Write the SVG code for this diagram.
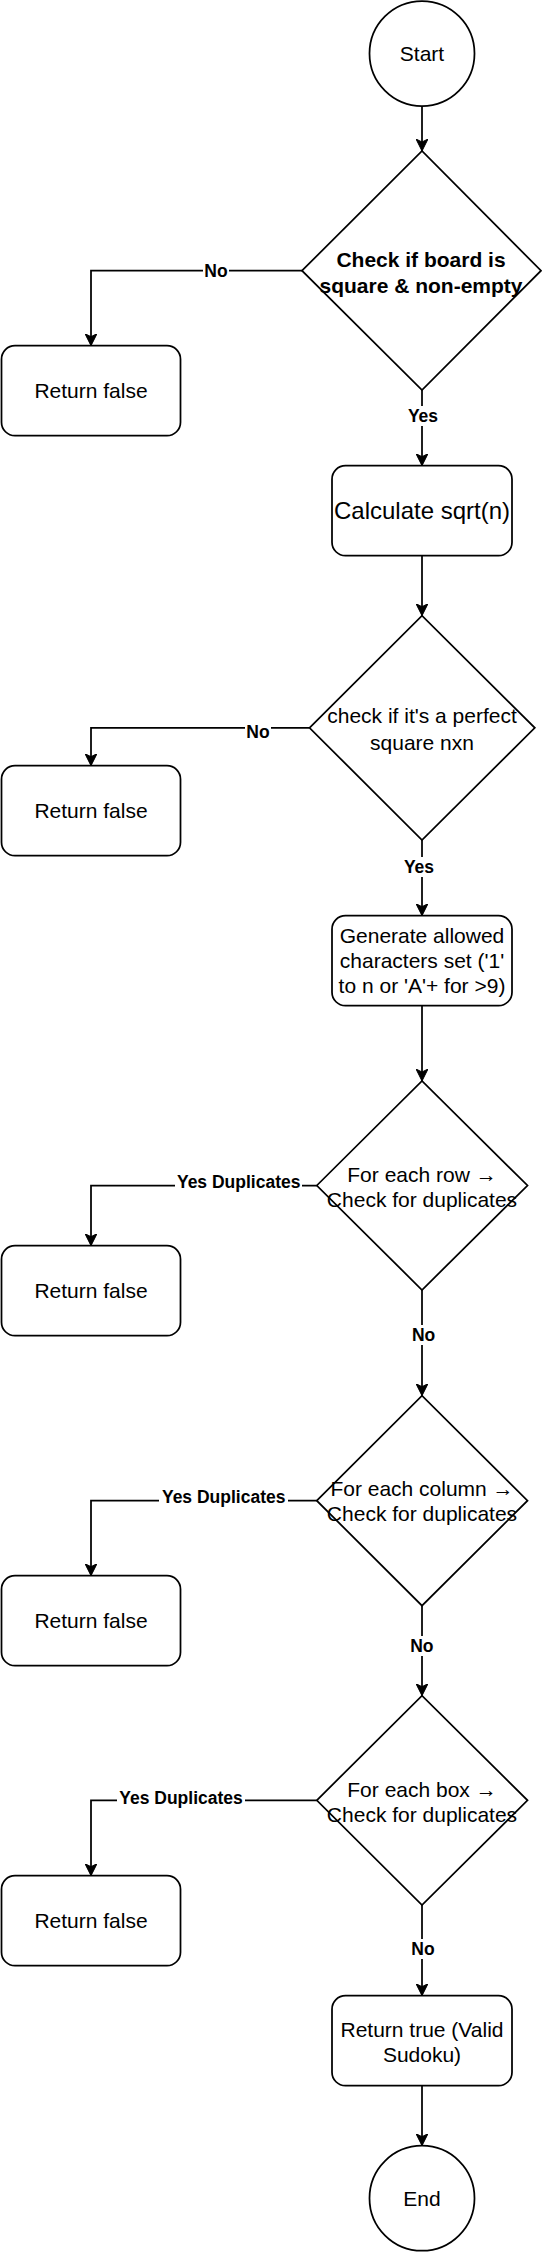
<svg xmlns="http://www.w3.org/2000/svg" width="542" height="2252" viewBox="0 0 542 2252">
<style>
.n{fill:#fff;stroke:#000;stroke-width:1.75}
.t{font-family:"Liberation Sans",Arial,Helvetica,sans-serif;font-size:21px;fill:#000;text-anchor:middle}
.b{font-weight:bold}
.e{fill:none;stroke:#000;stroke-width:1.75}
.lb{fill:#fff;stroke:none}
.l{font-family:"Liberation Sans",Arial,Helvetica,sans-serif;font-size:17.5px;font-weight:bold;fill:#000;text-anchor:middle}
</style>
<defs>
<marker id="arr" markerUnits="userSpaceOnUse" viewBox="0 0 12 12" refX="12" refY="6" markerWidth="12" markerHeight="12" orient="auto">
<path d="M0,0 L12,6 L0,12 L3,6 Z" fill="#000" stroke="#000" stroke-width="1"/>
</marker>
</defs>
<rect width="542" height="2252" fill="#fff"/>
<g id="connectors">
<path class="e" d="M422,106 V151" marker-end="url(#arr)"/>
<path class="e" d="M302,270.7 H91 V345.7" marker-end="url(#arr)"/>
<path class="e" d="M422,390 V465.7" marker-end="url(#arr)"/>
<path class="e" d="M422,555.7 V615.7" marker-end="url(#arr)"/>
<path class="e" d="M309.5,727.8 H91 V765.7" marker-end="url(#arr)"/>
<path class="e" d="M422,840 V915.7" marker-end="url(#arr)"/>
<path class="e" d="M422,1005.7 V1081" marker-end="url(#arr)"/>
<path class="e" d="M316.8,1185.5 H91 V1245.7" marker-end="url(#arr)"/>
<path class="e" d="M422,1290 V1395.7" marker-end="url(#arr)"/>
<path class="e" d="M316.8,1500.7 H91 V1575.7" marker-end="url(#arr)"/>
<path class="e" d="M422,1605.7 V1695.7" marker-end="url(#arr)"/>
<path class="e" d="M316.8,1800.3 H91 V1875.7" marker-end="url(#arr)"/>
<path class="e" d="M422,1905 V1995.7" marker-end="url(#arr)"/>
<path class="e" d="M422,2085.7 V2145.7" marker-end="url(#arr)"/>
<g id="labels">
<rect class="lb" x="203" y="261" width="26" height="20"/><text class="l" x="216" y="277">No</text>
<rect class="lb" x="406" y="406" width="34" height="20"/><text class="l" x="423" y="422.3">Yes</text>
<rect class="lb" x="245" y="722" width="26" height="20"/><text class="l" x="258" y="738">No</text>
<rect class="lb" x="402" y="857" width="34" height="20"/><text class="l" x="419" y="873">Yes</text>
<rect class="lb" x="175" y="1172" width="127" height="20"/><text class="l" x="238.7" y="1188">Yes Duplicates</text>
<rect class="lb" x="410" y="1325" width="27" height="20"/><text class="l" x="423.6" y="1341.3">No</text>
<rect class="lb" x="159" y="1487" width="129" height="20"/><text class="l" x="223.7" y="1503">Yes Duplicates</text>
<rect class="lb" x="408" y="1636" width="27" height="20"/><text class="l" x="421.8" y="1652">No</text>
<rect class="lb" x="117" y="1788" width="128" height="20"/><text class="l" x="181" y="1804.3">Yes Duplicates</text>
<rect class="lb" x="409" y="1939" width="27" height="20"/><text class="l" x="423" y="1955.3">No</text>
</g>
</g>
<g id="start"><circle class="n" cx="422" cy="53.5" r="52.5"/><text class="t" x="422" y="61">Start</text></g>
<g id="check-board"><polygon class="n" points="302,270.7 422,151 541,270.7 422,390"/><text class="t b" x="421" y="266.8">Check if board is</text><text class="t b" x="421" y="292.5">square &amp; non-empty</text></g>
<g id="false1"><rect class="n" x="1.5" y="345.7" width="179" height="90" rx="13.5"/><text class="t" x="91" y="398.2">Return false</text></g>
<g id="calc-sqrt"><rect class="n" x="332" y="465.7" width="180" height="90" rx="13.5"/><text class="t" x="422" y="518.6" style="font-size:24px">Calculate sqrt(n)</text></g>
<g id="check-perfect"><polygon class="n" points="309.5,727.8 422,615.7 534.8,727.8 422,840"/><text class="t" x="422" y="723.2">check if it's a perfect</text><text class="t" x="422" y="749.8">square nxn</text></g>
<g id="false2"><rect class="n" x="1.5" y="765.7" width="179" height="90" rx="13.5"/><text class="t" x="91" y="818.2">Return false</text></g>
<g id="generate"><rect class="n" x="332" y="915.7" width="180" height="90" rx="13.5"/><text class="t" x="422" y="943">Generate allowed</text><text class="t" x="422" y="968.2">characters set ('1'</text><text class="t" x="422" y="993.4">to n or 'A'+ for &gt;9)</text></g>
<g id="check-rows"><polygon class="n" points="316.8,1185.5 422,1081 527.5,1185.5 422,1290"/><text class="t" x="422" y="1181.8">For each row →</text><text class="t" x="422" y="1206.5">Check for duplicates</text></g>
<g id="false3"><rect class="n" x="1.5" y="1245.7" width="179" height="90" rx="13.5"/><text class="t" x="91" y="1298.2">Return false</text></g>
<g id="check-cols"><polygon class="n" points="316.8,1500.7 422,1395.7 527.5,1500.7 422,1605.7"/><text class="t" x="422" y="1495.8">For each column →</text><text class="t" x="422" y="1520.8">Check for duplicates</text></g>
<g id="false4"><rect class="n" x="1.5" y="1575.7" width="179" height="90" rx="13.5"/><text class="t" x="91" y="1628.2">Return false</text></g>
<g id="check-boxes"><polygon class="n" points="316.8,1800.3 422,1695.7 527.5,1800.3 422,1905"/><text class="t" x="422" y="1796.5">For each box →</text><text class="t" x="422" y="1821.5">Check for duplicates</text></g>
<g id="false5"><rect class="n" x="1.5" y="1875.7" width="179" height="90" rx="13.5"/><text class="t" x="91" y="1928.2">Return false</text></g>
<g id="return-true"><rect class="n" x="332" y="1995.7" width="180" height="90" rx="13.5"/><text class="t" x="422" y="2036.5">Return true (Valid</text><text class="t" x="422" y="2061.5">Sudoku)</text></g>
<g id="end"><circle class="n" cx="422" cy="2198.2" r="52.5"/><text class="t" x="422" y="2205.7">End</text></g>
</svg>
